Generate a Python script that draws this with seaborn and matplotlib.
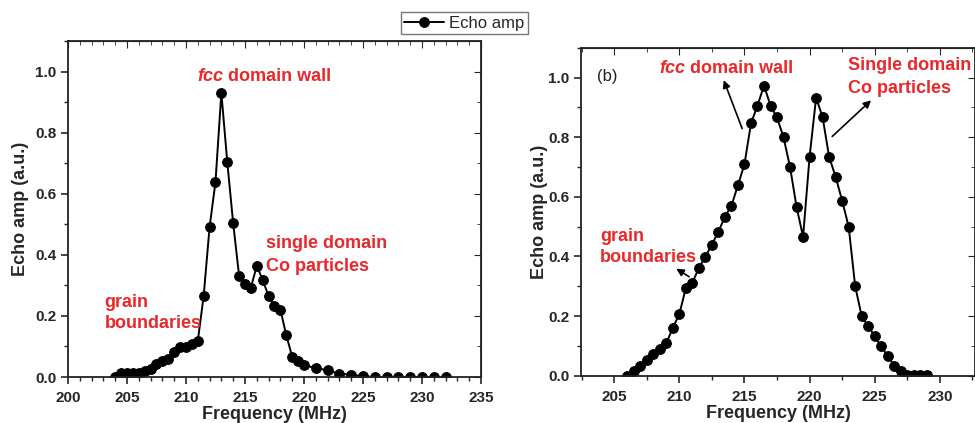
import numpy as np
import seaborn as sns
import matplotlib.pyplot as plt
from matplotlib.ticker import MultipleLocator

sns.set_style("ticks")
plt.rcParams['font.family'] = ['Liberation Sans', 'DejaVu Sans']

# Panel (a) data
freq_a = [204, 204.5, 205, 205.5, 206, 206.5, 207, 207.5, 208, 208.5, 209, 209.5,
          210, 210.5, 211, 211.5, 212, 212.5, 213, 213.5, 214, 214.5, 215, 215.5,
          216, 216.5, 217, 217.5, 218, 218.5, 219, 219.5, 220, 221, 222, 223, 224,
          225, 226, 227, 228, 229, 230, 231, 232]
amp_a = [0.0, 0.012, 0.012, 0.012, 0.012, 0.02, 0.027, 0.041, 0.053, 0.058, 0.083, 0.099,
         0.097, 0.107, 0.117, 0.265, 0.49, 0.638, 0.93, 0.704, 0.504, 0.332, 0.305, 0.292,
         0.364, 0.318, 0.265, 0.233, 0.221, 0.137, 0.067, 0.051, 0.038, 0.03, 0.022, 0.011,
         0.008, 0.002, 0.0, 0.0, 0.0, 0.0, 0.0, 0.0, 0.0]

# Panel (b) data
freq_b = [206, 206.5, 207, 207.5, 208, 208.5, 209, 209.5, 210, 210.5, 211, 211.5,
          212, 212.5, 213, 213.5, 214, 214.5, 215, 215.5, 216, 216.5, 217, 217.5,
          218, 218.5, 219, 219.5, 220, 220.5, 221, 221.5, 222, 222.5, 223, 223.5,
          224, 224.5, 225, 225.5, 226, 226.5, 227, 227.5, 228, 228.5, 229]
amp_b = [0.0, 0.017, 0.034, 0.053, 0.074, 0.09, 0.11, 0.16, 0.207, 0.294, 0.312, 0.361,
         0.399, 0.44, 0.483, 0.533, 0.57, 0.639, 0.709, 0.846, 0.906, 0.973, 0.906, 0.866,
         0.799, 0.70, 0.566, 0.466, 0.734, 0.932, 0.867, 0.734, 0.667, 0.587, 0.50, 0.30,
         0.20, 0.166, 0.133, 0.098, 0.066, 0.034, 0.017, 0.003, 0.003, 0.003, 0.003]

red = '#e8282b'
fig = plt.figure(figsize=(9.75, 4.23), dpi=100)
ax1 = fig.add_axes([0.0697, 0.1087, 0.4236, 0.7944])
ax2 = fig.add_axes([0.5959, 0.1118, 0.4041, 0.7754])


def style_axes(ax, xlim, xmajor, xminor, ypad):
    ax.set_xlim(*xlim)
    ax.set_ylim(0, 1.1)
    ax.xaxis.set_major_locator(MultipleLocator(xmajor))
    ax.xaxis.set_minor_locator(MultipleLocator(xminor))
    ax.yaxis.set_major_locator(MultipleLocator(0.2))
    ax.yaxis.set_minor_locator(MultipleLocator(0.1))
    ax.yaxis.set_major_formatter(plt.FormatStrFormatter('%.1f'))
    ax.tick_params(which='major', direction='out', length=5, width=1.2, labelsize=11)
    ax.tick_params(axis='x', which='major', pad=5)
    ax.tick_params(which='minor', direction='out', length=3, width=1)
    for lab in ax.get_xticklabels() + ax.get_yticklabels():
        lab.set_fontweight('bold')
    for s in ax.spines.values():
        s.set_linewidth(1.3)
        s.set_color('#222222')
    top = ax.secondary_xaxis('top')
    top.xaxis.set_major_locator(MultipleLocator(xmajor))
    top.xaxis.set_minor_locator(MultipleLocator(xminor))
    top.tick_params(which='both', direction='in', labeltop=False)
    top.tick_params(which='major', length=5)
    top.tick_params(which='minor', length=3)
    right = ax.secondary_yaxis('right')
    right.yaxis.set_major_locator(MultipleLocator(0.2))
    right.yaxis.set_minor_locator(MultipleLocator(0.1))
    right.tick_params(which='both', direction='in', labelright=False)
    right.tick_params(which='major', length=5)
    right.tick_params(which='minor', length=3)
    ax.set_xlabel('Frequency (MHz)', fontsize=13, fontweight='bold', labelpad=1)
    ax.set_ylabel('Echo amp (a.u.)', fontsize=13, fontweight='bold', labelpad=ypad)


sns.lineplot(x=freq_a, y=amp_a, ax=ax1, color='black', marker='o', markersize=7,
             markeredgecolor='black', linewidth=1.4, label='Echo amp', legend=False)
sns.lineplot(x=freq_b, y=amp_b, ax=ax2, color='black', marker='o', markersize=7,
             markeredgecolor='black', linewidth=1.4, legend=False)

style_axes(ax1, (200, 235), 5, 1, 4)
style_axes(ax2, (202.45, 232.7), 5, 2.5, 0)

tk = dict(color=red, fontsize=13, fontweight='bold', va='center', ha='left')


def fcc_label(ax, x, y):
    t = ax.text(x, y, 'fcc', style='italic', **tk)
    ax.annotate(' domain wall', xy=(1, 0.5), xycoords=t, color=red, fontsize=13,
                fontweight='bold', va='center', ha='left')


# Panel (a) annotations
fcc_label(ax1, 210.93, 0.985)
ax1.text(216.8, 0.437, 'single domain', **tk)
ax1.text(216.8, 0.362, 'Co particles', **tk)
ax1.text(203.1, 0.245, 'grain', **tk)
ax1.text(203.1, 0.176, 'boundaries', **tk)

# Panel (b) annotations
ax2.text(203.7, 1.004, '(b)', fontsize=12, va='center', ha='left', color='#222222')
fcc_label(ax2, 208.45, 1.031)
ax2.text(222.93, 1.041, 'Single domain', **tk)
ax2.text(222.93, 0.964, 'Co particles', **tk)
ax2.text(203.9, 0.468, 'grain', **tk)
ax2.text(203.9, 0.395, 'boundaries', **tk)
arrow = dict(arrowstyle='-|>', color='black', lw=1.2, mutation_scale=11)
ax2.annotate('', xy=(213.33, 1.0), xytext=(214.9, 0.82), arrowprops=arrow)
ax2.annotate('', xy=(224.88, 0.93), xytext=(221.58, 0.796), arrowprops=arrow)
ax2.annotate('', xy=(209.58, 0.364), xytext=(210.93, 0.327), arrowprops=arrow)

handles, labels = ax1.get_legend_handles_labels()
fig.legend(handles, labels, loc='center', bbox_to_anchor=(0.476, 0.945), fontsize=12,
           frameon=True, fancybox=False, edgecolor='#555555', borderpad=0.2,
           handlelength=2.4, handletextpad=0.3)

fig.savefig('out.png', dpi=100)
